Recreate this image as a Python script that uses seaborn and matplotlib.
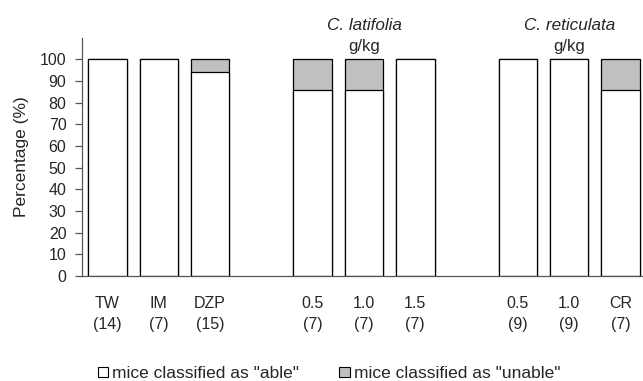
import matplotlib
matplotlib.use("Agg")
import matplotlib.pyplot as plt
from matplotlib.patches import Patch
import seaborn as sns
import pandas as pd

groups = ["TW", "IM", "DZP", "0.5", "1.0", "1.5", "0.5", "1.0", "CR"]
n_mice = ["(14)", "(7)", "(15)", "(7)", "(7)", "(7)", "(9)", "(9)", "(7)"]
positions = [0, 1, 2, 4, 5, 6, 8, 9, 10]
able = [100, 100, 94, 85.7, 85.7, 100, 100, 100, 85.7]
unable = [0, 0, 6, 14.3, 14.3, 0, 0, 0, 14.3]
yticks = list(range(0, 101, 10))

sns.set_theme(style="white")
plt.rcParams['font.family'] = ['Liberation Sans', 'DejaVu Sans']
FS = 11.5

df = pd.DataFrame({"pos": positions, "able": able,
                   "total": [a + u for a, u in zip(able, unable)]})

fig = plt.figure(figsize=(6.43, 3.81), dpi=100)
ax = fig.add_axes([0.127, 0.2756, 0.8715, 0.624])

sns.barplot(data=df, x="pos", y="total", native_scale=True, width=0.75,
            color="#c0c0c0", saturation=1, edgecolor="black", linewidth=0.9, ax=ax)
sns.barplot(data=df, x="pos", y="able", native_scale=True, width=0.75,
            color="white", saturation=1, edgecolor="black", linewidth=0.9, ax=ax)

ax.set_xlim(-0.503, 10.42)
ax.set_ylim(0, 109.7)
ax.set_yticks(yticks)
ax.set_yticklabels([str(t) for t in yticks], fontsize=FS)
ax.tick_params(axis="y", length=5, width=0.9, pad=6, color="#555555", left=True)
ax.set_xticks([])
ax.set_xlabel("")
ax.set_ylabel("Percentage (%)", fontsize=12.5, labelpad=8)

for s in ["top", "right"]:
    ax.spines[s].set_visible(False)
for s in ["left", "bottom"]:
    ax.spines[s].set_color("#555555")
    ax.spines[s].set_linewidth(0.9)

xt = ax.get_xaxis_transform()
for p, g, n in zip(positions, groups, n_mice):
    ax.text(p, -0.1136, g, transform=xt, ha="center", va="center", fontsize=FS, clip_on=False)
    ax.text(p, -0.202, n, transform=xt, ha="center", va="center", fontsize=FS, clip_on=False)

ax.text(5.0, 1.036, "C. latifolia", transform=xt, ha="center", va="baseline",
        fontsize=12.3, style="italic")
ax.text(5.0, 0.946, "g/kg", transform=xt, ha="center", va="baseline", fontsize=12)
ax.text(9.0, 1.036, "C. reticulata", transform=xt, ha="center", va="baseline",
        fontsize=12.3, style="italic")
ax.text(9.0, 0.946, "g/kg", transform=xt, ha="center", va="baseline", fontsize=12)

handles = [Patch(facecolor="white", edgecolor="black", linewidth=0.8),
           Patch(facecolor="#c0c0c0", edgecolor="black", linewidth=0.8)]
labels = ['mice classified as "able"', 'mice classified as "unable"']
fig.legend(handles, labels, ncol=2, loc="center left", bbox_to_anchor=(0.152, 0.02),
           frameon=False, fontsize=12.5, handlelength=0.6, handleheight=0.5,
           handletextpad=0.25, columnspacing=2.3, borderpad=0, borderaxespad=0)

fig.savefig("out.png", dpi=100)
